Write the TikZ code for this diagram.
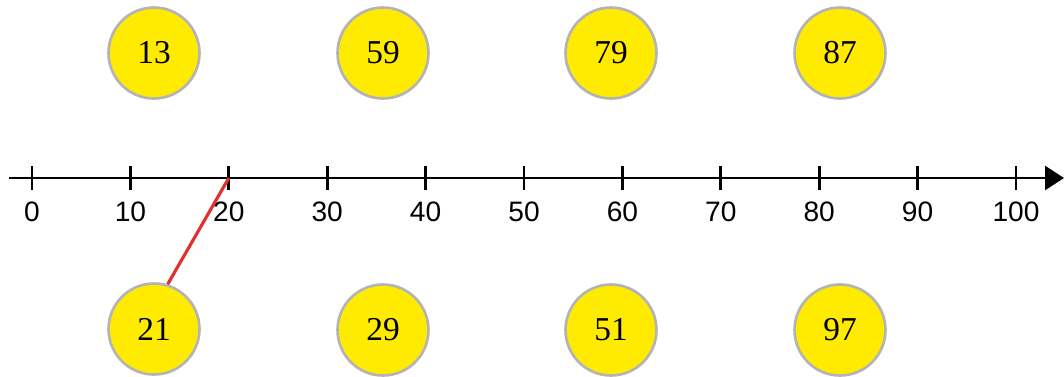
\documentclass[tikz,border=0pt]{standalone}
\usepackage{fontspec}
\setmainfont{Liberation Serif}
\newfontfamily\axisfont{Liberation Sans}
\usepackage{xcolor}
\usetikzlibrary{arrows.meta,positioning,calc}
\definecolor{ballfill}{HTML}{FFEB00}
\definecolor{balledge}{HTML}{B4B4B4}
\definecolor{linkred}{HTML}{E03030}

\begin{document}
\begin{tikzpicture}[x=0.02cm, y=-0.02cm,
  ball/.style={circle, draw=balledge, line width=1.5pt, fill=ballfill, minimum size=1.82cm, inner sep=0pt, font=\fontsize{19}{22}\selectfont},
  axis/.style={line width=1.6pt, -{Triangle[length=0.38cm, width=0.48cm]}},
  tick/.style={line width=1.5pt},
  ticklabel/.style={font=\axisfont\fontsize{16}{19}\selectfont},
  link/.style={draw=linkred, line width=1.8pt}
]
\useasboundingbox (0,0) rectangle (1064,376);

% axis
\coordinate (start) at (9,178);
\coordinate (tip) at (1064,178);
\draw[axis] (start) -- (tip);
\foreach \v in {0,10,...,100} {
  \coordinate (t\v) at ({32+9.84*\v},178);
  \draw[tick] ($(t\v)+(0,-12)$) -- ($(t\v)+(0,12)$);
  \node[ticklabel] (l\v) at ({32+9.84*\v},212) {\v};
}

% top row
\node[ball] (c13) at (154,53) {13};
\node[ball] (c59) at (383,53) {59};
\node[ball] (c79) at (611,53) {79};
\node[ball] (c87) at (840,53) {87};

% bottom row
\node[ball] (c21) at (154,329) {21};
\node[ball] (c29) at (383,330) {29};
\node[ball] (c51) at (611,330) {51};
\node[ball] (c97) at (840,330) {97};

\draw[link] (t20) -- (c21.73);
\end{tikzpicture}
\end{document}
